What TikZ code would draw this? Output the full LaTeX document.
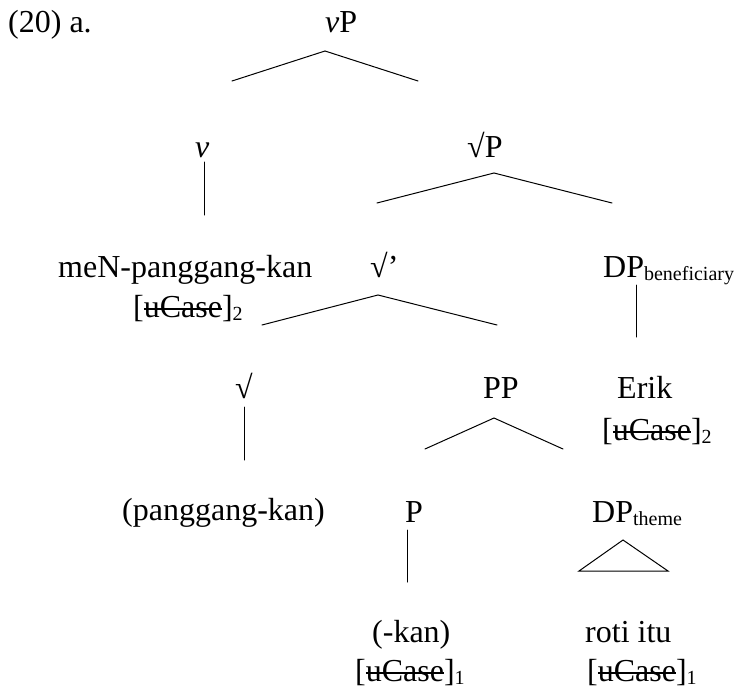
\documentclass[tikz,border=0pt]{standalone}
\usepackage{fontspec}
\setmainfont{Liberation Serif}
% struck-out word: rule drawn across the middle of the letters
\newsavebox{\strikebox}
\newcommand{\strikeout}[1]{\sbox{\strikebox}{#1}\rlap{\rule[0.22em]{\wd\strikebox}{1.5pt}}\usebox{\strikebox}}
% small lowered index (subscripts on labels)
\newcommand{\lowsub}[1]{\raisebox{-3pt}{\fontsize{20}{22}\selectfont #1}}
% struck-out feature with index
\newcommand{\ucase}[1]{[\strikeout{uCase}]\lowsub{#1}}
\begin{document}
\begin{tikzpicture}[x=1pt,y=-1pt,
  lbl/.style={anchor=base west,inner sep=0pt,font=\fontsize{32}{38}\selectfont},
  branch/.style={line width=1pt,line cap=round,line join=miter}]
\useasboundingbox (0,0) rectangle (742,688);

% labels
\node[lbl] (ex)    at (8,32)    {(20) a.};
\node[lbl] (vP)    at (325,32)  {\textit{v}P};
\node[lbl] (v)     at (195,157) {\textit{v}};
\node[lbl] (rP)    at (467,157) {√P};
\node[lbl] (verb)  at (58,277)  {meN-panggang-kan};
\node[lbl] (verbc) at (133,317) {\ucase{2}};
\node[lbl] (rbar)  at (370,277) {√’};
\node[lbl] (dpb)   at (603,277) {DP\lowsub{beneficiary}};
\node[lbl] (root)  at (235,398) {√};
\node[lbl] (PP)    at (483,398) {PP};
\node[lbl] (erik)  at (617,398) {Erik};
\node[lbl] (erikc) at (602,440) {\ucase{2}};
\node[lbl] (rootw) at (122,520) {(panggang-kan)};
\node[lbl] (P)     at (405,522) {P};
\node[lbl] (dpt)   at (592,522) {DP\lowsub{theme}};
\node[lbl] (kan)   at (372,642) {(-kan)};
\node[lbl] (kanc)  at (355,681) {\ucase{1}};
\node[lbl] (roti)  at (585,642) {roti itu};
\node[lbl] (rotic) at (587,681) {\ucase{1}};

% branch end points
\coordinate (vPa) at (325,51);  \coordinate (vPl) at (232,81);  \coordinate (vPr) at (418,81);
\coordinate (va)  at (204,162); \coordinate (vb)  at (204,215);
\coordinate (rPa) at (494,173); \coordinate (rPl) at (377,203); \coordinate (rPr) at (612,203);
\coordinate (rba) at (378,295); \coordinate (rbl) at (262,325); \coordinate (rbr) at (497,325);
\coordinate (dba) at (636,285); \coordinate (dbb) at (636,337);
\coordinate (rta) at (244,407); \coordinate (rtb) at (244,460);
\coordinate (PPa) at (494,418); \coordinate (PPl) at (425,449); \coordinate (PPr) at (563,449);
\coordinate (Pa)  at (407,530); \coordinate (Pb)  at (407,582);
\coordinate (tra) at (623,540); \coordinate (trl) at (579,571); \coordinate (trr) at (668,571);

% branches
\draw[branch] (vPl) -- (vPa) -- (vPr);
\draw[branch] (va) -- (vb);
\draw[branch] (rPl) -- (rPa) -- (rPr);
\draw[branch] (rbl) -- (rba) -- (rbr);
\draw[branch] (dba) -- (dbb);
\draw[branch] (rta) -- (rtb);
\draw[branch] (PPl) -- (PPa) -- (PPr);
\draw[branch] (Pa) -- (Pb);
\draw[branch] (trl) -- (tra) -- (trr) -- cycle;
\end{tikzpicture}
\end{document}
